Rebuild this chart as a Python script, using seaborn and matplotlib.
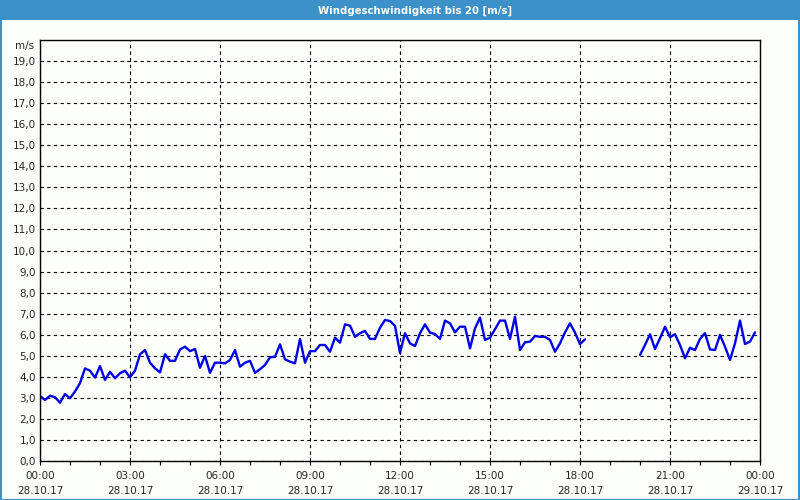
import numpy as np
import pandas as pd
import matplotlib
matplotlib.use("Agg")
import matplotlib.pyplot as plt
import seaborn as sns
from matplotlib.patches import Rectangle

TITLE = "Windgeschwindigkeit bis 20 [m/s]"
UNIT = "m/s"

# 10 minute readings, 00:00 .. 23:50 on 28.10.17 (NaN = missing)
wind = [
    3.09, 2.90, 3.10, 3.03, 2.77, 3.18, 2.98, 3.30, 3.70, 4.40,
    4.29, 3.96, 4.51, 3.85, 4.24, 3.93, 4.17, 4.29, 3.98, 4.29,
    5.07, 5.27, 4.67, 4.40, 4.21, 5.07, 4.76, 4.76, 5.30, 5.43,
    5.22, 5.32, 4.43, 4.99, 4.19, 4.67, 4.67, 4.64, 4.80, 5.27,
    4.48, 4.67, 4.76, 4.19, 4.36, 4.56, 4.93, 4.95, 5.54, 4.83,
    4.72, 4.64, 5.80, 4.67, 5.22, 5.22, 5.51, 5.51, 5.19, 5.86,
    5.62, 6.49, 6.43, 5.90, 6.07, 6.18, 5.80, 5.80, 6.33, 6.70,
    6.65, 6.42, 5.13, 6.07, 5.59, 5.46, 6.07, 6.49, 6.10, 6.03,
    5.80, 6.67, 6.54, 6.11, 6.38, 6.38, 5.35, 6.30, 6.81, 5.75,
    5.86, 6.26, 6.67, 6.67, 5.80, 6.86, 5.27, 5.64, 5.67, 5.94,
    5.90, 5.90, 5.75, 5.19, 5.59, 6.11, 6.54, 6.10, 5.55, 5.78,
    np.nan, np.nan, np.nan, np.nan, np.nan, np.nan, np.nan, np.nan, np.nan, np.nan,
    5.04, 5.51, 6.02, 5.32, 5.83, 6.38, 5.88, 6.02, 5.51, 4.88,
    5.38, 5.27, 5.80, 6.07, 5.30, 5.27, 5.99, 5.43, 4.80, 5.59,
    6.67, 5.56, 5.67, 6.11,
]
hours = [i / 6 for i in range(len(wind))]

xtick_pos = [0, 3, 6, 9, 12, 15, 18, 21, 24]
xtick_labels = ["00:00\n28.10.17", "03:00\n28.10.17", "06:00\n28.10.17",
                "09:00\n28.10.17", "12:00\n28.10.17", "15:00\n28.10.17",
                "18:00\n28.10.17", "21:00\n28.10.17", "00:00\n29.10.17"]
ytick_pos = list(range(0, 20))
ytick_labels = [f"{v},0" for v in ytick_pos]

BLUE_BAR = "#3c91c8"
BG = "#fcfefc"

df = pd.DataFrame({"hour": hours, "wind": wind})
df["seg"] = df["wind"].isna().cumsum()
df = df.dropna()

sns.set_style("white")
plt.rcParams["font.family"] = ["DejaVu Sans"]

fig = plt.figure(figsize=(8, 5), dpi=100, facecolor=BG)
ax = fig.add_axes([0.05, 0.078, 0.90, 0.842])
ax.set_facecolor(BG)

sns.lineplot(data=df, x="hour", y="wind", units="seg", estimator=None,
             color="#0000e6", linewidth=1.7, ax=ax)

ax.set_xlim(0, 24)
ax.set_ylim(0, 20)
ax.set_xticks(xtick_pos)
ax.set_xticklabels(xtick_labels, fontsize=7.5, linespacing=1.7)
ax.set_xticks(range(0, 25), minor=True)
ax.set_yticks(ytick_pos)
ax.set_yticklabels(ytick_labels, fontsize=7.5)
ax.set_xlabel("")
ax.set_ylabel("")
ax.tick_params(axis="x", which="both", direction="out", length=3, width=0.8,
               color="black", pad=4, bottom=True)
ax.tick_params(axis="y", length=0, pad=3)

ax.grid(True, which="major", color="black", linestyle=(0, (3, 3)), linewidth=0.8)
for s in ax.spines.values():
    s.set_color("black")
    s.set_linewidth(1.0)

ax.text(-0.008, 0.985, UNIT, transform=ax.transAxes, ha="right", va="center",
        fontsize=7.5)

# title bar and window frame
fig.patches.append(Rectangle((0, 0.96), 1, 0.04, transform=fig.transFigure,
                             facecolor=BLUE_BAR, edgecolor="none", zorder=0))
fig.patches.append(Rectangle((0.0008, 0.001), 0.9984, 0.998, transform=fig.transFigure,
                             facecolor="none", edgecolor=BLUE_BAR, linewidth=1.5))
fig.text(0.519, 0.979, TITLE, ha="center", va="center", color="white",
         fontsize=7.3, fontweight="bold")

fig.savefig("out.png", dpi=100, facecolor=BG)
